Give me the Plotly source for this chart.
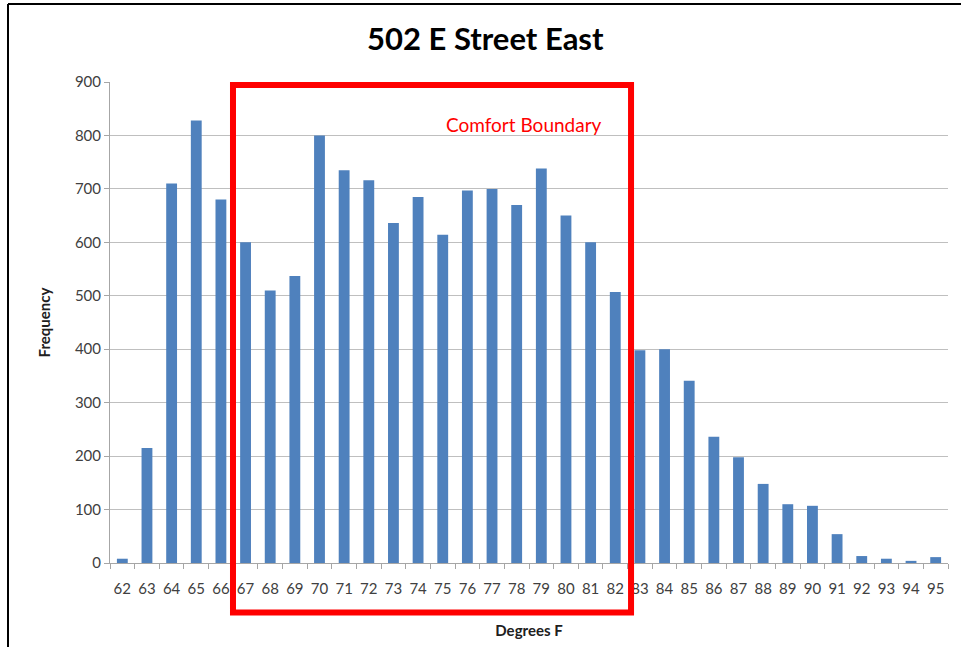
import plotly.graph_objects as go

degrees = [str(d) for d in range(62, 96)]
frequency = [8, 215, 710, 828, 680, 600, 510, 537, 800, 735, 716, 636, 685, 614,
             697, 700, 670, 738, 650, 600, 507, 398, 400, 341, 236, 198, 148, 110,
             107, 54, 13, 8, 4, 11]
y_ticks = [0, 100, 200, 300, 400, 500, 600, 700, 800, 900]
title_text = "502 E Street East"
x_title = "Degrees F"
y_title = "Frequency"
box_label = "Comfort Boundary"
box_from, box_to = 4.49, 20.64  # category index span of the comfort box

FONT = "Lato, 'Open Sans', sans-serif"
n = len(degrees)

def cat_to_paper(i):
    return (i + 0.5) / n

fig = go.Figure(go.Bar(x=degrees, y=frequency, marker_color="#4F81BD",
                       marker_line_width=0))

fig.update_layout(
    width=961, height=647,
    margin=dict(l=110, r=13, t=82, b=84),
    paper_bgcolor="white", plot_bgcolor="white",
    bargap=0.56,
    showlegend=False,
    title=dict(text=f"<b>{title_text}</b>", x=0.505, xanchor="center", y=0.94,
               yanchor="middle", font=dict(family=FONT, size=31, color="black")),
    font=dict(family=FONT, color="#404040"),
)
fig.update_xaxes(
    type="category", range=[-0.5, n - 0.5], automargin=False,
    showline=True, linecolor="#A6A6A6", linewidth=1,
    ticks="outside", tickson="boundaries", ticklen=5, tickcolor="#A6A6A6",
    tickangle=0, tickfont=dict(size=15, color="#404040"), ticklabelstandoff=12,
    title=dict(text=f"<b>{x_title}</b>", font=dict(size=15, color="#202020"), standoff=29),
    showgrid=False,
)
fig.update_yaxes(
    range=[0, 900], tickvals=y_ticks, automargin=False,
    showline=True, linecolor="#A6A6A6", linewidth=1,
    ticks="outside", ticklen=5, tickcolor="#A6A6A6",
    tickfont=dict(size=15, color="#404040"),
    showgrid=True, gridcolor="#BFBFBF", gridwidth=1,
    zeroline=False,
    title=dict(text=f"<b>{y_title}</b>", font=dict(size=15, color="#202020"), standoff=20),
)

# Comfort boundary rectangle
fig.add_shape(type="rect", xref="paper", yref="paper",
              x0=cat_to_paper(box_from), x1=cat_to_paper(box_to),
              y0=-0.103, y1=0.9938,
              line=dict(color="#FF0000", width=6), fillcolor="rgba(0,0,0,0)",
              layer="above")
fig.add_annotation(text=box_label, xref="paper", yref="paper",
                   x=(524 - 110) / 838, y=(563 - 111) / 481,
                   showarrow=False, font=dict(family=FONT, size=19, color="#FF0000"))

# Outer frame (left and top edges)
fig.add_shape(type="line", xref="paper", yref="paper",
              x0=(8 - 110) / 838, x1=(8 - 110) / 838, y0=(563 - 4) / 481, y1=(563 - 650) / 481,
              line=dict(color="black", width=2))
fig.add_shape(type="line", xref="paper", yref="paper",
              x0=(8 - 110) / 838, x1=(965 - 110) / 838, y0=(563 - 4) / 481, y1=(563 - 4) / 481,
              line=dict(color="black", width=2))

fig.write_html("out.html", config={"displayModeBar": False},
               post_script="document.body.style.margin='0';document.body.style.overflow='hidden';")
